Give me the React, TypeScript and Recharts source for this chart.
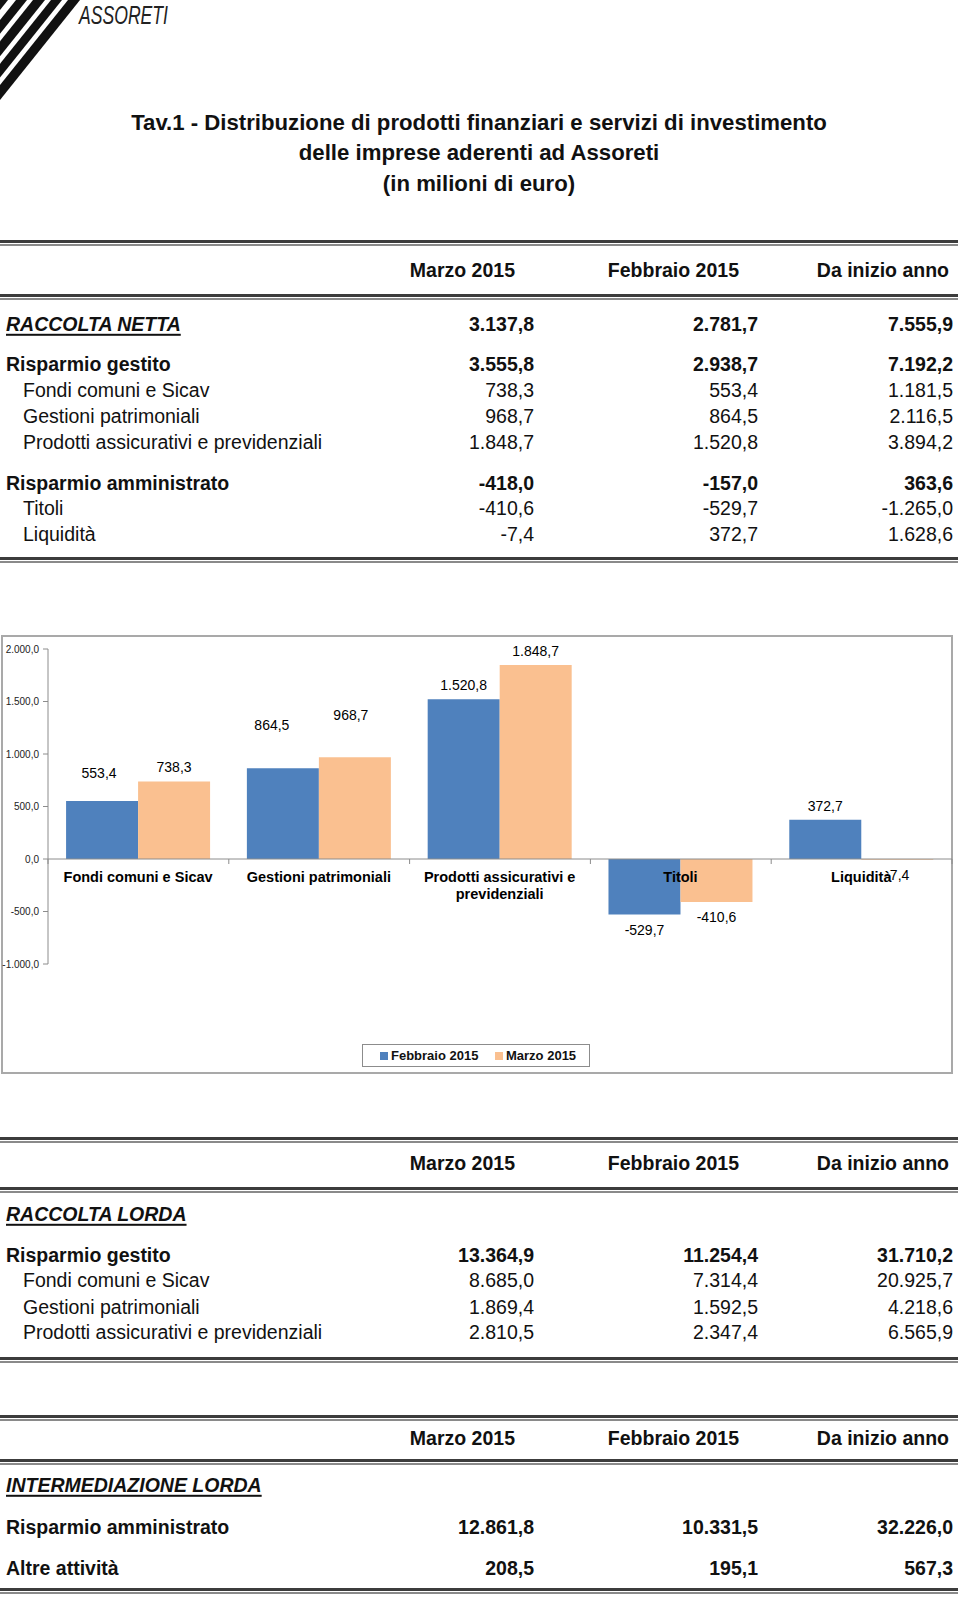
import React from 'react';
import { BarChart, Bar, XAxis, YAxis, LabelList, ReferenceLine } from 'recharts';

// ---------- data ----------
const CATEGORIES = ['Fondi comuni e Sicav', 'Gestioni patrimoniali', 'Prodotti assicurativi e\nprevidenziali', 'Titoli', 'Liquidità'];
const FEB_2015 = [553.4, 864.5, 1520.8, -529.7, 372.7];
const MAR_2015 = [738.3, 968.7, 1848.7, -410.6, -7.4];
const Y_TICKS = [-1000, -500, 0, 500, 1000, 1500, 2000];
const SERIES_NAMES = ['Febbraio 2015', 'Marzo 2015'];

const TITLE_LINES = [
  'Tav.1 - Distribuzione di prodotti finanziari e servizi di investimento',
  'delle imprese aderenti ad Assoreti',
  '(in milioni di euro)',
];
const COLUMN_HEADERS = ['Marzo 2015', 'Febbraio 2015', 'Da inizio anno'];

const NETTA_LABELS = ['RACCOLTA NETTA', 'Risparmio gestito', 'Fondi comuni e Sicav', 'Gestioni patrimoniali', 'Prodotti assicurativi e previdenziali', 'Risparmio amministrato', 'Titoli', 'Liquidità'];
const NETTA_MARZO = [3137.8, 3555.8, 738.3, 968.7, 1848.7, -418.0, -410.6, -7.4];
const NETTA_FEBBRAIO = [2781.7, 2938.7, 553.4, 864.5, 1520.8, -157.0, -529.7, 372.7];
const NETTA_ANNO = [7555.9, 7192.2, 1181.5, 2116.5, 3894.2, 363.6, -1265.0, 1628.6];

const LORDA_LABELS = ['RACCOLTA LORDA', 'Risparmio gestito', 'Fondi comuni e Sicav', 'Gestioni patrimoniali', 'Prodotti assicurativi e previdenziali'];
const LORDA_MARZO = [null, 13364.9, 8685.0, 1869.4, 2810.5];
const LORDA_FEBBRAIO = [null, 11254.4, 7314.4, 1592.5, 2347.4];
const LORDA_ANNO = [null, 31710.2, 20925.7, 4218.6, 6565.9];

const INTERM_LABELS = ['INTERMEDIAZIONE LORDA', 'Risparmio amministrato', 'Altre attività'];
const INTERM_MARZO = [null, 12861.8, 208.5];
const INTERM_FEBBRAIO = [null, 10331.5, 195.1];
const INTERM_ANNO = [null, 32226.0, 567.3];

// ---------- styles / layout (kept apart from data) ----------
const FONT = '"Liberation Sans", Arial, Helvetica, sans-serif';
const BLUE = '#4f81bd';
const ORANGE = '#fac090';
const NETTA_KIND = ['section', 'bold', 'sub', 'sub', 'sub', 'bold', 'sub', 'sub'];
const LORDA_KIND = ['section', 'bold', 'sub', 'sub', 'sub'];
const INTERM_KIND = ['section', 'bold', 'bold'];
const HEADER_RIGHT = [515, 739, 949];
const VALUE_RIGHT = [534, 758, 953];
const NETTA_POS = { top: 243, head: 270, mid: 297, rows: [324, 364, 390, 416, 442, 483, 508, 534], bottom: 560 };
const LORDA_POS = { top: 1140, head: 1163, mid: 1190, rows: [1214, 1255, 1280, 1307, 1332], bottom: 1360 };
const INTERM_POS = { top: 1418, head: 1438, mid: 1462, rows: [1485, 1527, 1568], bottom: 1591 };
// manual label nudges [dx, dy] (px), as in the reference
const FEB_NUDGE = [[-3, -14], [-11, -29], [0, 0], [0, 0], [0, 0]];
const MAR_NUDGE = [[0, 0], [-4, -28], [0, 0], [0, 0], [0, 0]];

function fmt(v: number): string {
  const neg = v < 0;
  const [i, d] = Math.abs(v).toFixed(1).split('.');
  const g = i.replace(/\B(?=(\d{3})+(?!\d))/g, '.');
  return (neg ? '-' : '') + g + ',' + d;
}

const chartData = CATEGORIES.map((name, i) => ({ name, feb: FEB_2015[i], mar: MAR_2015[i] }));

function Txt(props: any) {
  const { x, y, align = 'left', bold, italic, underline, size = 19.5, color = '#111', children } = props;
  const tx = align === 'right' ? '-100%' : align === 'center' ? '-50%' : '0';
  return (
    <div
      style={{
        position: 'absolute', left: x, top: y, transform: `translate(${tx}, -50%)`,
        whiteSpace: 'nowrap', fontFamily: FONT, fontSize: size, fontWeight: bold ? 700 : 400,
        fontStyle: italic ? 'italic' : 'normal', textDecoration: underline ? 'underline' : 'none',
        textDecorationThickness: underline ? 2 : undefined, textUnderlineOffset: underline ? 3 : undefined,
        lineHeight: 1.15, color,
      }}
    >
      {children}
    </div>
  );
}

function DoubleRule({ y }: { y: number }) {
  return (
    <>
      <div style={{ position: 'absolute', left: 0, top: y - 3, width: 958, height: 3, background: '#3c3c3c' }} />
      <div style={{ position: 'absolute', left: 0, top: y + 1, width: 958, height: 2, background: '#8a8a8a' }} />
    </>
  );
}

function Table(props: any) {
  const { pos, labels, kinds, cols } = props;
  return (
    <>
      <DoubleRule y={pos.top} />
      {COLUMN_HEADERS.map((h, i) => (
        <Txt key={h} x={HEADER_RIGHT[i]} y={pos.head} align="right" bold>{h}</Txt>
      ))}
      <DoubleRule y={pos.mid} />
      {labels.map((lab: string, r: number) => {
        const kind = kinds[r];
        const bold = kind !== 'sub';
        return (
          <React.Fragment key={lab + r}>
            <Txt x={kind === 'sub' ? 23 : 6} y={pos.rows[r]} bold={bold} italic={kind === 'section'} underline={kind === 'section'}>{lab}</Txt>
            {cols.map((col: (number | null)[], c: number) =>
              col[r] === null ? null : (
                <Txt key={c} x={VALUE_RIGHT[c]} y={pos.rows[r]} align="right" bold={bold}>{fmt(col[r] as number)}</Txt>
              )
            )}
          </React.Fragment>
        );
      })}
      <DoubleRule y={pos.bottom} />
    </>
  );
}

function Logo() {
  const s = 0.8;
  const bands = [[0, 8], [16, 27], [33, 45], [51, 62], [68, 80]];
  return (
    <svg width={180} height={110} style={{ position: 'absolute', left: 0, top: 0 }}>
      {bands.map(([a, b], i) => (
        <polygon key={i} points={`${a},0 ${b},0 0,${b / s} 0,${a / s}`} fill="#111" />
      ))}
      <text x={79} y={24} fontFamily={FONT} fontStyle="italic" fontSize={26} fill="#222" textLength={89} lengthAdjust="spacingAndGlyphs">ASSORETI</text>
    </svg>
  );
}

function barBox(props: any) {
  const vb = props.viewBox || {};
  const x = Number(vb.x ?? props.x);
  const y = Number(vb.y ?? props.y);
  const w = Number(vb.width ?? props.width);
  const h = Number(vb.height ?? props.height);
  return { x, w, top: Math.min(y, y + h), bottom: Math.max(y, y + h) };
}

const makeValueLabel = (nudge: number[][], values: number[]) => (props: any) => {
  const idx = props.index;
  const v = values[idx];
  const b = barBox(props);
  const [dx, dy] = nudge[idx] || [0, 0];
  const cy = v >= 0 ? b.top - 14 : b.bottom + 15;
  return (
    <text x={b.x + b.w / 2 + dx} y={cy + dy} textAnchor="middle" dominantBaseline="central" fontSize={14} fontFamily={FONT} fill="#000">
      {fmt(v)}
    </text>
  );
};

const CategoryLabel = (props: any) => {
  const idx = props.index;
  const v = MAR_2015[idx];
  const b = barBox(props);
  const zero = v >= 0 ? b.bottom : b.top;
  const lines = String(CATEGORIES[idx]).split('\n');
  return (
    <text x={b.x} y={zero + 18} textAnchor="middle" dominantBaseline="central" fontSize={14.5} fontWeight={700} fontFamily={FONT} fill="#000">
      {lines.map((l, i) => (
        <tspan key={i} x={b.x} dy={i === 0 ? 0 : 16.5}>{l}</tspan>
      ))}
    </text>
  );
};

const ZeroTicks = (props: any) => {
  const vb = props.viewBox || {};
  const n = CATEGORIES.length;
  const x0 = Number(vb.x), w = Number(vb.width), y0 = Number(vb.y);
  if (!isFinite(x0) || !isFinite(w) || !isFinite(y0)) return null;
  return (
    <g>
      {Array.from({ length: n + 1 }, (_, i) => (
        <line key={i} x1={x0 + (i * w) / n} x2={x0 + (i * w) / n} y1={y0} y2={y0 + 5} stroke="#8c8c8c" />
      ))}
    </g>
  );
};

function Chart() {
  return (
    <>
      <div style={{ position: 'absolute', left: 1, top: 635, width: 952, height: 439, boxSizing: 'border-box', border: '2px solid #a9a9a9' }} />
      <div style={{ position: 'absolute', left: 1, top: 635, width: 952, height: 439 }}>
        <BarChart width={952} height={439} data={chartData} margin={{ top: 14, right: 1, bottom: 110, left: 0 }} barCategoryGap="10%" barGap={0}>
          <XAxis dataKey="name" hide />
          <YAxis
            width={47}
            domain={[-1000, 2000]}
            ticks={Y_TICKS}
            interval={0}
            tickFormatter={(v: number) => fmt(v)}
            tick={{ fontSize: 10, fill: '#222', fontFamily: FONT }}
            tickSize={5}
            tickMargin={4}
            axisLine={{ stroke: '#8c8c8c' }}
            tickLine={{ stroke: '#8c8c8c' }}
            allowDataOverflow
          />
          <Bar dataKey="feb" name={SERIES_NAMES[0]} fill={BLUE} isAnimationActive={false}>
            <LabelList dataKey="feb" content={makeValueLabel(FEB_NUDGE, FEB_2015)} />
          </Bar>
          <Bar dataKey="mar" name={SERIES_NAMES[1]} fill={ORANGE} isAnimationActive={false}>
            <LabelList dataKey="mar" content={makeValueLabel(MAR_NUDGE, MAR_2015)} />
            <LabelList dataKey="name" content={CategoryLabel} />
          </Bar>
          <ReferenceLine y={0} stroke="#8c8c8c" label={(p: any) => <ZeroTicks {...p} />} />
        </BarChart>
      </div>
      <div style={{ position: 'absolute', left: 362, top: 1044, width: 228, height: 23, boxSizing: 'border-box', border: '1px solid #8c8c8c', background: '#fff' }}>
        {SERIES_NAMES.map((n, i) => (
          <div key={n} style={{ position: 'absolute', left: i === 0 ? 17 : 132, top: 0, height: 21, display: 'flex', alignItems: 'center', whiteSpace: 'nowrap', fontFamily: FONT, fontWeight: 700, fontSize: 13, color: '#111' }}>
            <span style={{ display: 'inline-block', width: 8, height: 8, background: i === 0 ? BLUE : ORANGE, marginRight: 3 }} />
            {n}
          </div>
        ))}
      </div>
    </>
  );
}

export default function App() {
  return (
    <div style={{ position: 'absolute', left: 0, top: 0, width: 960, height: 1599, background: '#fff', overflow: 'hidden' }}>
      <Logo />
      {TITLE_LINES.map((t, i) => (
        <Txt key={i} x={479} y={122.5 + i * 30.75} align="center" bold size={22.2} color="#111">{t}</Txt>
      ))}
      <Table pos={NETTA_POS} labels={NETTA_LABELS} kinds={NETTA_KIND} cols={[NETTA_MARZO, NETTA_FEBBRAIO, NETTA_ANNO]} />
      <Chart />
      <Table pos={LORDA_POS} labels={LORDA_LABELS} kinds={LORDA_KIND} cols={[LORDA_MARZO, LORDA_FEBBRAIO, LORDA_ANNO]} />
      <Table pos={INTERM_POS} labels={INTERM_LABELS} kinds={INTERM_KIND} cols={[INTERM_MARZO, INTERM_FEBBRAIO, INTERM_ANNO]} />
    </div>
  );
}
